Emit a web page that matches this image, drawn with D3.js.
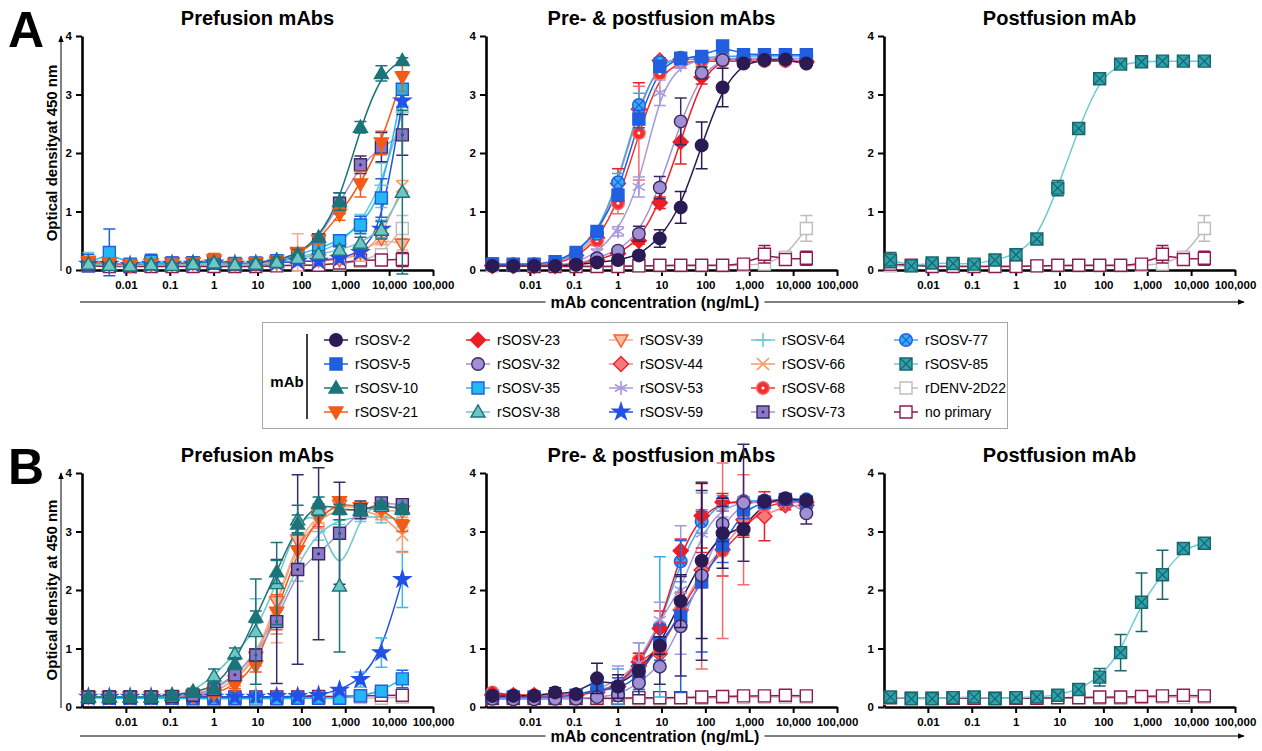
<!DOCTYPE html>
<html>
<head>
<meta charset="utf-8">
<script src="https://cdn.jsdelivr.net/npm/d3@7"></script>
<style>
  body { margin: 0; background: #fff; }
  svg { font-family: "Liberation Sans", Arial, sans-serif; }
</style>
</head>
<body>
<div id="chart"></div>
<script>
// mAb concentrations (ng/mL), 3-fold dilution series, low -> high
var conc = [0.0014, 0.0042, 0.0125, 0.0376, 0.113, 0.339, 1.02, 3.05, 9.14, 27.4, 82.3, 247, 741, 2222, 6667, 20000];
var xTicks = [0.01, 0.1, 1, 10, 100, 1000, 10000, 100000];
var yTicks = [0, 1, 2, 3, 4];
var panelTitles = ['Prefusion mAbs', 'Pre- & postfusion mAbs', 'Postfusion mAb'];
var yLabels = ['Optical densityat 450 nm', 'Optical density at 450 nm'];
var xLabel = 'mAb concentration (ng/mL)';
var rowLetters = ['A', 'B'];

// legend order (column by column)
var legendNames = [
  'rSOSV-2', 'rSOSV-5', 'rSOSV-10', 'rSOSV-21',
  'rSOSV-23', 'rSOSV-32', 'rSOSV-35', 'rSOSV-38',
  'rSOSV-39', 'rSOSV-44', 'rSOSV-53', 'rSOSV-59',
  'rSOSV-64', 'rSOSV-66', 'rSOSV-68', 'rSOSV-73',
  'rSOSV-77', 'rSOSV-85', 'rDENV-2D22', 'no primary'
];

// each entry: [mAb, mean OD450, SD]
var aPrefusion = [
  ['rDENV-2D22', [0.08,0.08,0.07,0.08,0.08,0.08,0.08,0.08,0.08,0.08,0.08,0.09,0.1,0.15,0.26,0.71], [0.03,0.03,0.03,0.03,0.03,0.03,0.03,0.03,0.03,0.03,0.03,0.03,0.04,0.05,0.06,0.22]],
  ['no primary', [0.07,0.06,0.06,0.06,0.06,0.06,0.06,0.06,0.06,0.07,0.08,0.08,0.12,0.17,0.17,0.18], [0.03,0.03,0.03,0.03,0.03,0.03,0.03,0.03,0.03,0.03,0.03,0.03,0.04,0.05,0.06,0.12]],
  ['rSOSV-66', [0.1,0.1,0.08,0.1,0.12,0.1,0.12,0.1,0.1,0.12,0.15,0.15,0.18,0.25,0.55,1.43], [0.05,0.04,0.03,0.05,0.05,0.05,0.05,0.04,0.04,0.05,0.06,0.06,0.08,0.1,0.12,0.1]],
  ['rSOSV-39', [0.12,0.1,0.07,0.1,0.12,0.12,0.15,0.1,0.1,0.12,0.3,0.17,0.17,0.3,0.54,0.44], [0.05,0.05,0.03,0.05,0.05,0.05,0.06,0.03,0.04,0.05,0.32,0.05,0.06,0.08,0.1,0.1]],
  ['rSOSV-64', [0.15,0.12,0.1,0.12,0.1,0.12,0.12,0.1,0.12,0.15,0.22,0.3,0.45,0.8,1.45,2.7], [0.15,0.05,0.03,0.05,0.05,0.05,0.05,0.04,0.05,0.05,0.06,0.08,0.1,0.15,0.38,0.35]],
  ['rSOSV-59', [0.1,0.1,0.08,0.1,0.1,0.1,0.12,0.1,0.1,0.12,0.15,0.15,0.2,0.3,0.7,2.89], [0.03,0.03,0.02,0.03,0.03,0.03,0.03,0.03,0.03,0.03,0.04,0.04,0.05,0.08,0.15,0.1]],
  ['rSOSV-73', [0.1,0.1,0.08,0.12,0.1,0.12,0.12,0.1,0.1,0.15,0.27,0.52,1.14,1.8,2.1,2.31], [0.04,0.04,0.03,0.05,0.04,0.04,0.04,0.04,0.04,0.06,0.08,0.06,0.18,0.15,0.25,0.35]],
  ['rSOSV-35', [0.12,0.3,0.1,0.15,0.12,0.12,0.13,0.11,0.12,0.16,0.26,0.37,0.5,0.77,1.23,3.09], [0.15,0.4,0.05,0.12,0.1,0.06,0.1,0.05,0.06,0.05,0.08,0.08,0.1,0.15,0.33,0.3]],
  ['rSOSV-21', [0.15,0.12,0.08,0.1,0.1,0.12,0.18,0.1,0.12,0.15,0.28,0.51,0.95,1.47,2.17,3.3], [0.06,0.05,0.04,0.05,0.08,0.06,0.1,0.04,0.04,0.05,0.1,0.06,0.1,0.22,0.2,0.25]],
  ['rSOSV-10', [0.1,0.08,0.07,0.09,0.08,0.12,0.13,0.1,0.12,0.17,0.27,0.56,1.17,2.44,3.36,3.58], [0.04,0.03,0.02,0.03,0.03,0.05,0.06,0.03,0.05,0.05,0.08,0.06,0.15,0.1,0.13,0.05]],
  ['rSOSV-38', [0.1,0.08,0.07,0.09,0.08,0.1,0.12,0.09,0.1,0.13,0.2,0.27,0.34,0.46,0.68,1.33], [0.03,0.03,0.02,0.03,0.03,0.03,0.04,0.03,0.03,0.05,0.06,0.06,0.08,0.1,0.15,1.4]]
];

var aBoth = [
  ['rDENV-2D22', [0.07,0.07,0.07,0.07,0.07,0.07,0.07,0.07,0.07,0.07,0.07,0.07,0.08,0.1,0.22,0.71], [0.03,0.03,0.03,0.03,0.03,0.03,0.03,0.03,0.03,0.03,0.03,0.03,0.04,0.05,0.06,0.22]],
  ['no primary', [0.1,0.08,0.06,0.06,0.06,0.06,0.06,0.07,0.08,0.08,0.08,0.08,0.1,0.27,0.18,0.2], [0.1,0.03,0.03,0.03,0.03,0.03,0.03,0.03,0.06,0.06,0.06,0.06,0.07,0.15,0.06,0.12]],
  ['rSOSV-44', [0.08,0.08,0.08,0.1,0.25,0.55,1.48,2.75,3.58,3.6,3.6,3.6,3.6,3.6,3.6,3.55], [0.03,0.03,0.03,0.03,0.05,0.08,0.25,0.45,0.05,0.04,0.04,0.04,0.04,0.04,0.04,0.04]],
  ['rSOSV-68', [0.08,0.08,0.08,0.1,0.22,0.5,1.14,2.34,3.36,3.55,3.57,3.57,3.57,3.57,3.57,3.55], [0.03,0.03,0.03,0.03,0.05,0.08,0.18,0.8,0.08,0.04,0.04,0.04,0.04,0.04,0.04,0.04]],
  ['rSOSV-77', [0.1,0.1,0.1,0.12,0.28,0.62,1.5,2.82,3.55,3.63,3.63,3.65,3.66,3.66,3.66,3.66], [0.03,0.03,0.03,0.03,0.05,0.06,0.15,0.2,0.05,0.03,0.03,0.03,0.03,0.03,0.03,0.03]],
  ['rSOSV-23', [0.07,0.07,0.07,0.07,0.1,0.17,0.28,0.5,1.15,2.19,3.3,3.6,3.6,3.6,3.6,3.57], [0.03,0.03,0.03,0.03,0.03,0.04,0.05,0.06,0.1,0.38,0.12,0.04,0.04,0.04,0.04,0.04]],
  ['rSOSV-53', [0.08,0.08,0.08,0.08,0.12,0.3,0.66,1.42,3.03,3.5,3.6,3.62,3.62,3.62,3.62,3.62], [0.03,0.03,0.03,0.03,0.04,0.06,0.08,0.17,0.22,0.05,0.04,0.04,0.04,0.04,0.04,0.04]],
  ['rSOSV-32', [0.07,0.07,0.07,0.07,0.1,0.2,0.33,0.62,1.41,2.54,3.37,3.59,3.6,3.6,3.6,3.57], [0.03,0.03,0.03,0.03,0.03,0.04,0.05,0.13,0.19,0.4,0.1,0.04,0.04,0.04,0.04,0.04]],
  ['rSOSV-5', [0.1,0.1,0.1,0.14,0.3,0.66,1.28,2.58,3.48,3.62,3.65,3.83,3.68,3.68,3.68,3.68], [0.03,0.03,0.03,0.03,0.05,0.06,0.1,0.15,0.06,0.04,0.04,0.04,0.04,0.04,0.04,0.04]],
  ['rSOSV-2', [0.07,0.07,0.07,0.07,0.09,0.13,0.17,0.25,0.54,1.07,2.13,3.12,3.53,3.59,3.6,3.53], [0.03,0.03,0.03,0.03,0.03,0.03,0.04,0.06,0.15,0.27,0.4,0.33,0.05,0.03,0.03,0.03]]
];

var aPostfusion = [
  ['rDENV-2D22', [0.07,0.07,0.07,0.07,0.07,0.07,0.07,0.07,0.07,0.07,0.07,0.07,0.08,0.1,0.22,0.71], [0.03,0.03,0.03,0.03,0.03,0.03,0.03,0.03,0.03,0.03,0.03,0.03,0.04,0.05,0.06,0.22]],
  ['no primary', [0.1,0.08,0.06,0.06,0.06,0.06,0.06,0.07,0.08,0.08,0.08,0.08,0.1,0.27,0.18,0.2], [0.1,0.03,0.03,0.03,0.03,0.03,0.03,0.03,0.06,0.06,0.06,0.06,0.07,0.15,0.06,0.12]],
  ['rSOSV-85', [0.17,0.07,0.12,0.11,0.1,0.17,0.26,0.53,1.4,2.42,3.27,3.52,3.56,3.57,3.57,3.57], [0.13,0.03,0.03,0.03,0.03,0.03,0.04,0.05,0.13,0.05,0.05,0.04,0.03,0.03,0.03,0.03]]
];

var bPrefusion = [
  ['rDENV-2D22', [0.17,0.17,0.17,0.17,0.17,0.17,0.17,0.17,0.17,0.17,0.17,0.17,0.17,0.16,0.15,0.17], [0.03,0.03,0.03,0.03,0.03,0.03,0.03,0.03,0.03,0.03,0.03,0.03,0.03,0.03,0.04,0.04]],
  ['no primary', [0.17,0.17,0.17,0.17,0.17,0.17,0.17,0.17,0.17,0.17,0.17,0.18,0.18,0.19,0.2,0.2], [0.03,0.03,0.03,0.03,0.03,0.03,0.03,0.03,0.03,0.03,0.03,0.03,0.04,0.04,0.06,0.06]],
  ['rSOSV-35', [0.16,0.15,0.15,0.15,0.15,0.14,0.14,0.14,0.14,0.14,0.15,0.15,0.15,0.19,0.27,0.48], [0.03,0.03,0.03,0.03,0.03,0.03,0.03,0.03,0.03,0.03,0.03,0.03,0.03,0.04,0.05,0.15]],
  ['rSOSV-59', [0.17,0.17,0.17,0.17,0.17,0.17,0.17,0.17,0.17,0.18,0.18,0.2,0.29,0.47,0.93,2.18], [0.03,0.03,0.03,0.03,0.03,0.03,0.03,0.03,0.03,0.03,0.03,0.03,0.04,0.13,0.25,0.48]],
  ['rSOSV-64', [0.18,0.17,0.17,0.17,0.18,0.2,0.3,0.5,0.95,1.55,2.45,3.0,3.2,3.25,3.25,3.2], [0.03,0.03,0.03,0.03,0.03,0.04,0.06,0.1,0.9,0.3,0.3,0.15,0.08,0.08,0.1,0.12]],
  ['rSOSV-66', [0.17,0.17,0.17,0.17,0.18,0.2,0.25,0.45,0.8,1.75,2.8,3.2,3.4,3.35,3.3,2.94], [0.03,0.03,0.03,0.03,0.03,0.04,0.05,0.08,0.1,0.5,0.4,0.15,0.08,0.08,0.1,0.3]],
  ['rSOSV-39', [0.17,0.17,0.17,0.17,0.18,0.2,0.25,0.45,0.85,1.8,2.85,3.3,3.45,3.4,3.36,3.35], [0.03,0.03,0.03,0.03,0.03,0.04,0.05,0.08,0.1,0.7,0.3,0.15,0.08,0.08,0.08,0.08]],
  ['rSOSV-21', [0.17,0.17,0.17,0.17,0.18,0.18,0.22,0.37,0.7,1.62,2.67,3.23,3.51,3.4,3.4,3.1], [0.03,0.03,0.03,0.03,0.03,0.03,0.04,0.06,0.1,0.3,0.3,0.15,0.08,0.08,0.08,0.1]],
  ['rSOSV-73', [0.17,0.17,0.17,0.17,0.18,0.2,0.3,0.55,0.89,1.46,2.35,2.62,2.97,3.37,3.49,3.46], [0.03,0.03,0.03,0.03,0.03,0.04,0.05,0.08,0.1,1.06,1.62,1.47,0.87,0.15,0.06,0.06]],
  ['rSOSV-38', [0.17,0.17,0.17,0.17,0.2,0.27,0.53,0.91,1.29,2.11,3.2,3.37,2.07,3.37,3.43,3.4], [0.03,0.03,0.03,0.03,0.04,0.05,0.12,0.1,0.9,0.7,0.25,0.1,1.13,0.08,0.06,0.06]],
  ['rSOSV-10', [0.17,0.17,0.17,0.17,0.2,0.25,0.33,0.74,1.54,2.31,3.13,3.49,3.38,3.36,3.46,3.38], [0.03,0.03,0.03,0.03,0.03,0.05,0.1,0.1,0.1,0.2,0.15,0.1,0.08,0.06,0.06,0.06]]
];

var bBoth = [
  ['rDENV-2D22', [0.14,0.14,0.14,0.14,0.14,0.14,0.14,0.14,0.14,0.15,0.15,0.16,0.16,0.17,0.17,0.17], [0.03,0.03,0.03,0.03,0.03,0.03,0.03,0.03,0.03,0.03,0.03,0.03,0.03,0.03,0.03,0.03]],
  ['no primary', [0.15,0.15,0.15,0.15,0.15,0.15,0.15,0.16,0.16,0.16,0.17,0.18,0.19,0.19,0.2,0.19], [0.03,0.03,0.03,0.03,0.03,0.03,0.08,0.1,0.1,0.08,0.06,0.05,0.05,0.05,0.05,0.05]],
  ['rSOSV-44', [0.2,0.18,0.18,0.18,0.2,0.25,0.35,0.7,0.91,1.66,2.34,2.69,3.2,3.26,3.45,3.45], [0.04,0.03,0.03,0.03,0.04,0.05,0.08,0.15,0.2,0.3,0.3,0.45,0.3,0.42,0.08,0.08]],
  ['rSOSV-68', [0.25,0.2,0.2,0.2,0.2,0.25,0.35,0.8,0.95,1.65,2.25,2.67,3.03,3.45,3.5,3.5], [0.04,0.03,0.03,0.03,0.04,0.05,0.08,0.12,0.2,0.3,1.6,1.5,0.94,0.1,0.06,0.06]],
  ['rSOSV-77', [0.15,0.15,0.15,0.15,0.2,0.3,0.35,0.7,1.37,2.49,3.17,3.51,3.52,3.53,3.55,3.55], [0.03,0.03,0.03,0.03,0.04,0.1,0.3,0.4,1.2,0.35,0.2,0.1,0.08,0.06,0.06,0.06]],
  ['rSOSV-23', [0.22,0.2,0.2,0.2,0.2,0.25,0.35,0.77,1.34,2.67,3.27,3.5,3.5,3.5,3.5,3.5], [0.04,0.03,0.03,0.03,0.04,0.05,0.08,0.15,0.3,0.2,0.55,0.15,0.08,0.06,0.06,0.06]],
  ['rSOSV-53', [0.17,0.17,0.17,0.2,0.2,0.3,0.45,0.75,1.49,2.0,2.96,3.4,3.5,3.5,3.5,3.5], [0.03,0.03,0.03,0.04,0.04,0.1,0.25,0.35,0.3,1.1,0.7,0.15,0.08,0.06,0.06,0.06]],
  ['rSOSV-5', [0.17,0.17,0.17,0.17,0.2,0.3,0.3,0.5,1.1,1.55,2.14,2.77,3.37,3.5,3.55,3.5], [0.03,0.03,0.03,0.03,0.04,0.15,0.2,0.2,0.3,1.3,1.2,0.3,0.15,0.06,0.06,0.06]],
  ['rSOSV-32', [0.14,0.13,0.13,0.14,0.14,0.17,0.2,0.41,0.69,1.38,2.25,3.13,3.49,3.52,3.55,3.31], [0.03,0.03,0.03,0.03,0.03,0.04,0.05,0.2,0.3,0.85,1.45,0.3,1.0,0.06,0.06,0.18]],
  ['rSOSV-2', [0.19,0.19,0.19,0.25,0.22,0.49,0.35,0.62,1.05,1.81,2.5,2.97,3.04,3.51,3.57,3.53], [0.03,0.03,0.03,0.08,0.05,0.26,0.2,0.1,0.15,0.45,1.33,0.6,0.1,0.06,0.06,0.06]]
];

var bPostfusion = [
  ['rDENV-2D22', [0.15,0.15,0.15,0.15,0.15,0.15,0.15,0.15,0.15,0.15,0.15,0.15,0.16,0.17,0.16,0.17], [0.03,0.03,0.03,0.03,0.03,0.03,0.03,0.03,0.03,0.03,0.03,0.03,0.03,0.03,0.03,0.03]],
  ['no primary', [0.16,0.15,0.15,0.15,0.15,0.15,0.15,0.15,0.16,0.16,0.17,0.17,0.18,0.19,0.2,0.19], [0.03,0.03,0.03,0.03,0.03,0.03,0.03,0.05,0.05,0.05,0.05,0.05,0.05,0.05,0.05,0.05]],
  ['rSOSV-85', [0.17,0.14,0.14,0.16,0.17,0.14,0.16,0.17,0.2,0.3,0.51,0.93,1.79,2.26,2.71,2.8], [0.03,0.03,0.03,0.03,0.03,0.03,0.03,0.03,0.04,0.05,0.15,0.31,0.5,0.42,0.05,0.03]]
];

var panels = [
  [aPrefusion, aBoth, aPostfusion],
  [bPrefusion, bBoth, bPostfusion]
];

// look of each mAb
var styles = {
  'rSOSV-2':    {shape: 'circle',   fill: '#2b1b54', stroke: '#2b1b54', line: '#2b1b54'},
  'rSOSV-5':    {shape: 'square',   fill: '#1f5fe0', stroke: '#1f5fe0', line: '#1f5fe0'},
  'rSOSV-10':   {shape: 'triUp',    fill: '#1b7479', stroke: '#1b7479', line: '#1b7479'},
  'rSOSV-21':   {shape: 'triDown',  fill: '#f45b17', stroke: '#f45b17', line: '#f45b17'},
  'rSOSV-23':   {shape: 'diamond',  fill: '#ee1c24', stroke: '#ee1c24', line: '#ee1c24'},
  'rSOSV-32':   {shape: 'circle',   fill: '#a08fd2', stroke: '#3a2b68', line: '#a392d8'},
  'rSOSV-35':   {shape: 'square',   fill: '#23b8f3', stroke: '#1f5fe0', line: '#23b8f3'},
  'rSOSV-38':   {shape: 'triUp',    fill: '#6fc6c6', stroke: '#1b7479', line: '#6fc6c6'},
  'rSOSV-39':   {shape: 'triDown',  fill: '#fcb99d', stroke: '#f4622a', line: '#fbaa8c', err: '#fbaa8c'},
  'rSOSV-44':   {shape: 'diamond',  fill: '#f8797b', stroke: '#ea2228', line: '#f8898b'},
  'rSOSV-53':   {shape: 'asterisk', fill: 'none',    stroke: '#a898de', line: '#a898de'},
  'rSOSV-59':   {shape: 'star',     fill: '#2350e6', stroke: '#2350e6', line: '#2350e6', err: '#3db8ea'},
  'rSOSV-64':   {shape: 'plus',     fill: 'none',    stroke: '#6cc8d2', line: '#6cc8d2'},
  'rSOSV-66':   {shape: 'times',    fill: 'none',    stroke: '#f8996c', line: '#f8996c'},
  'rSOSV-68':   {shape: 'circle',   fill: '#f22f2f', stroke: '#f56a6a', line: '#f22f2f', dot: '#fff'},
  'rSOSV-73':   {shape: 'square',   fill: '#8c79c6', stroke: '#3a2b68', line: '#a392d8', dot: '#3a2b68'},
  'rSOSV-77':   {shape: 'circle',   fill: '#36aaf3', stroke: '#1f5fe0', line: '#36aaf3', cross: '#1f5fe0', err: '#36aaf3'},
  'rSOSV-85':   {shape: 'square',   fill: '#2fa3ad', stroke: '#17676d', line: '#6fcbd4', cross: '#17676d'},
  'rDENV-2D22': {shape: 'square',   fill: '#fff',    stroke: '#bdbdbd', line: '#bdbdbd'},
  'no primary': {shape: 'square',   fill: '#fff',    stroke: '#8d1b50', line: '#8d1b50'}
};

var W = 1262, H = 751;
var colX = [82, 486, 884];
var plotW = 351, plotH = 234;
var rowBase = [270, 707];
var xTitleY = [302, 736];

var svg = d3.select('#chart').append('svg')
    .attr('width', W)
    .attr('height', H);

svg.append('defs').append('marker')
    .attr('id', 'arrow')
    .attr('viewBox', '0 0 10 10')
    .attr('refX', 9).attr('refY', 5)
    .attr('markerWidth', 7).attr('markerHeight', 7)
    .attr('orient', 'auto')
  .append('path')
    .attr('d', 'M0,1L10,5L0,9Z')
    .attr('fill', '#000');

function drawMarker(g, name) {
  var st = styles[name];
  var sw = 1.4;
  var el;
  if (st.shape === 'circle') {
    el = g.append('circle').attr('r', 6.3);
  } else if (st.shape === 'square') {
    el = g.append('path').attr('d', d3.symbol(d3.symbolSquare, 144)());
  } else if (st.shape === 'triUp') {
    el = g.append('path').attr('d', d3.symbol(d3.symbolTriangle, 85)()).attr('transform', 'translate(0,1)');
  } else if (st.shape === 'triDown') {
    el = g.append('path').attr('d', d3.symbol(d3.symbolTriangle, 85)()).attr('transform', 'rotate(180) translate(0,1)');
  } else if (st.shape === 'diamond') {
    el = g.append('path').attr('d', 'M0,-7.5L7.5,0L0,7.5L-7.5,0Z');
  } else if (st.shape === 'star') {
    el = g.append('path').attr('d', d3.symbol(d3.symbolStar, 85)());
  } else if (st.shape === 'plus') {
    el = g.append('path').attr('d', 'M-7,0H7M0,-7V7');
    sw = 1.6;
  } else if (st.shape === 'times') {
    el = g.append('path').attr('d', 'M-6,-6L6,6M-6,6L6,-6');
    sw = 1.6;
  } else if (st.shape === 'asterisk') {
    el = g.append('path').attr('d', 'M0,-7V7M-6.1,-3.5L6.1,3.5M-6.1,3.5L6.1,-3.5');
    sw = 1.6;
  }
  el.attr('fill', st.fill).attr('stroke', st.stroke).attr('stroke-width', sw);
  if (st.dot) {
    g.append('circle').attr('r', 1.5).attr('fill', st.dot);
  }
  if (st.cross) {
    var c = st.shape === 'square' ? 5.8 : 4.4;
    g.append('path')
      .attr('d', 'M' + (-c) + ',' + (-c) + 'L' + c + ',' + c + 'M' + (-c) + ',' + c + 'L' + c + ',' + (-c))
      .attr('stroke', st.cross).attr('stroke-width', 1.3).attr('fill', 'none');
  }
}

function drawPanel(row, col) {
  var data = panels[row][col];
  var x0 = colX[col], yb = rowBase[row];
  var x = d3.scaleLog().domain([0.001, 100000]).range([x0, x0 + plotW]);
  var y = d3.scaleLinear().domain([0, 4]).range([yb, yb - plotH]);
  var g = svg.append('g').attr('class', 'panel');

  var xAxis = g.append('g')
      .attr('transform', 'translate(0,' + yb + ')')
      .call(d3.axisBottom(x).tickValues(xTicks).tickFormat(d3.format(',')).tickSize(6).tickSizeOuter(0).tickPadding(5));
  var yAxis = g.append('g')
      .attr('transform', 'translate(' + x0 + ',0)')
      .call(d3.axisLeft(y).tickValues(yTicks).tickFormat(d3.format('d')).tickSize(6).tickSizeOuter(0).tickPadding(4));
  [xAxis, yAxis].forEach(function(a) {
    a.select('.domain').attr('stroke', '#000').attr('stroke-width', 2.6);
    a.selectAll('.tick line').attr('stroke', '#000').attr('stroke-width', 2);
    a.selectAll('.tick text')
      .attr('fill', '#000')
      .attr('font-size', 11.5)
      .attr('font-weight', 'bold')
      .attr('font-family', '"Liberation Sans", Arial, sans-serif');
  });

  g.append('text')
    .text(panelTitles[col])
    .attr('x', x0 + plotW / 2)
    .attr('y', yb - plotH - 11)
    .attr('text-anchor', 'middle')
    .attr('font-size', 20)
    .attr('font-weight', 'bold');

  var line = d3.line()
      .x(function(d, i) { return x(conc[i]); })
      .y(function(d) { return y(d); })
      .curve(d3.curveBasis);

  // fitted lines underneath
  g.selectAll('path.fit')
    .data(data)
    .enter().append('path')
      .attr('class', 'fit')
      .attr('d', function(d) { return line(d[1]); })
      .attr('fill', 'none')
      .attr('stroke', function(d) { return styles[d[0]].line; })
      .attr('stroke-width', 1.5);

  data.forEach(function(s) {
    var st = styles[s[0]];
    var ec = st.err || (st.stroke === 'none' ? st.line : st.stroke);
    var sg = g.append('g');
    s[1].forEach(function(m, i) {
      var e = s[2][i];
      var px = x(conc[i]);
      var yt = y(m + e), ybot = y(m - e);
      sg.append('path')
        .attr('d', 'M' + px + ',' + yt + 'V' + ybot + 'M' + (px - 6) + ',' + yt + 'H' + (px + 6) + 'M' + (px - 6) + ',' + ybot + 'H' + (px + 6))
        .attr('stroke', ec)
        .attr('stroke-width', 1.5)
        .attr('fill', 'none');
    });
    s[1].forEach(function(m, i) {
      var mg = sg.append('g').attr('transform', 'translate(' + x(conc[i]) + ',' + y(m) + ')');
      drawMarker(mg, s[0]);
    });
  });
}

for (var r = 0; r < 2; r++) {
  for (var c = 0; c < 3; c++) drawPanel(r, c);

  var yb = rowBase[r];
  // row letter
  svg.append('text')
    .text(rowLetters[r])
    .attr('x', 8)
    .attr('y', yb - plotH + 11)
    .attr('font-size', 50)
    .attr('font-weight', 'bold');

  // y axis title with arrow
  svg.append('line')
    .attr('x1', 61).attr('x2', 61)
    .attr('y1', yb + 1).attr('y2', yb - plotH)
    .attr('stroke', '#000').attr('stroke-width', 1)
    .attr('marker-end', 'url(#arrow)');
  svg.append('text')
    .text(yLabels[r])
    .attr('transform', 'translate(52,' + (yb - plotH / 2) + ') rotate(-90)')
    .attr('text-anchor', 'middle')
    .attr('dy', '0.35em')
    .attr('font-size', 15)
    .attr('font-weight', 'bold');

  // x axis title with arrow
  var ty = xTitleY[r];
  svg.append('line')
    .attr('x1', 80).attr('x2', 1244)
    .attr('y1', ty).attr('y2', ty)
    .attr('stroke', '#000').attr('stroke-width', 1)
    .attr('marker-end', 'url(#arrow)');
  var xt = svg.append('text')
    .text(xLabel)
    .attr('x', 655)
    .attr('y', ty)
    .attr('dy', '0.35em')
    .attr('text-anchor', 'middle')
    .attr('font-size', 16)
    .attr('font-weight', 'bold');
  var bb = xt.node().getBBox();
  svg.insert('rect', function() { return xt.node(); })
    .attr('x', bb.x - 5).attr('y', ty - 3)
    .attr('width', bb.width + 10).attr('height', 6)
    .attr('fill', '#fff');
}

// legend
var legSymX = [336, 478, 621, 763, 906];
var legRowY = [340, 364, 388, 412];
var legend = svg.append('g').attr('class', 'legend');
legend.append('rect')
  .attr('x', 262.5).attr('y', 322.5)
  .attr('width', 745).attr('height', 106)
  .attr('fill', '#fff')
  .attr('stroke', '#a6a6a6');
legend.append('text')
  .text('mAb')
  .attr('x', 287).attr('y', 382)
  .attr('dy', '0.35em')
  .attr('text-anchor', 'middle')
  .attr('font-size', 15)
  .attr('font-weight', 'bold');
legend.append('line')
  .attr('x1', 307).attr('x2', 307)
  .attr('y1', 334).attr('y2', 419)
  .attr('stroke', '#000').attr('stroke-width', 1.5);

legendNames.forEach(function(name, i) {
  var cx = legSymX[Math.floor(i / 4)], cy = legRowY[i % 4];
  var lg = legend.append('g').attr('transform', 'translate(' + cx + ',' + cy + ')');
  lg.append('line')
    .attr('x1', -12).attr('x2', 12)
    .attr('stroke', styles[name].line).attr('stroke-width', 1.5);
  drawMarker(lg, name);
  legend.append('text')
    .text(name)
    .attr('x', cx + 19).attr('y', cy)
    .attr('dy', '0.35em')
    .attr('font-size', 14);
});
</script>
</body>
</html>
